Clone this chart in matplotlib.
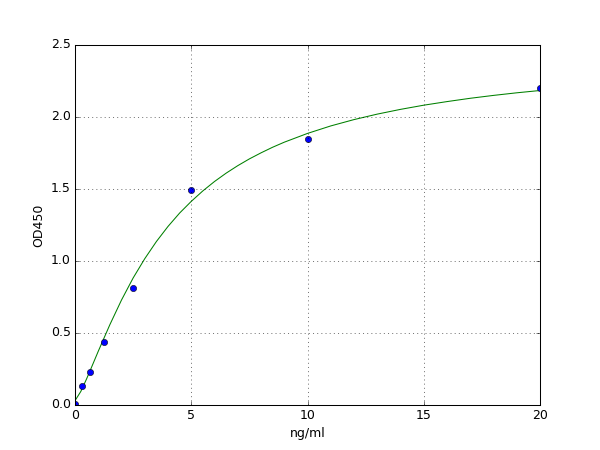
import matplotlib
matplotlib.use("Agg")
import matplotlib.pyplot as plt

# standard points (ng/ml, OD450)
conc = [0, 0.3125, 0.625, 1.25, 2.5, 5, 10, 20]
od = [0.01, 0.13, 0.23, 0.44, 0.81, 1.49, 1.85, 2.20]

# fitted curve
fit_x = [0, 0.25, 0.5, 0.75, 1, 1.5, 2, 2.5, 3, 3.5, 4, 4.5, 5, 5.5, 6, 6.5,
         7, 7.5, 8, 8.5, 9, 10, 11, 12, 13, 14, 15, 16, 17, 18, 19, 20]
fit_y = [0.03, 0.094, 0.182, 0.277, 0.373, 0.558, 0.729, 0.882, 1.016, 1.135,
         1.24, 1.333, 1.414, 1.487, 1.552, 1.61, 1.662, 1.709, 1.751, 1.79,
         1.825, 1.886, 1.938, 1.982, 2.02, 2.053, 2.082, 2.107, 2.13, 2.15,
         2.168, 2.184]


def main():
    plt.style.use("classic")
    fig = plt.figure(figsize=(8, 6), dpi=75)
    ax = fig.add_subplot(111)
    ax.plot(fit_x, fit_y, "g-")
    ax.plot(conc, od, "bo")
    ax.set_xlim(0, 20)
    ax.set_ylim(0, 2.5)
    ax.set_xlabel("ng/ml")
    ax.set_ylabel("OD450")
    ax.grid(True)
    fig.savefig("out.png", dpi=75, facecolor="white")


if __name__ == "__main__":
    main()
